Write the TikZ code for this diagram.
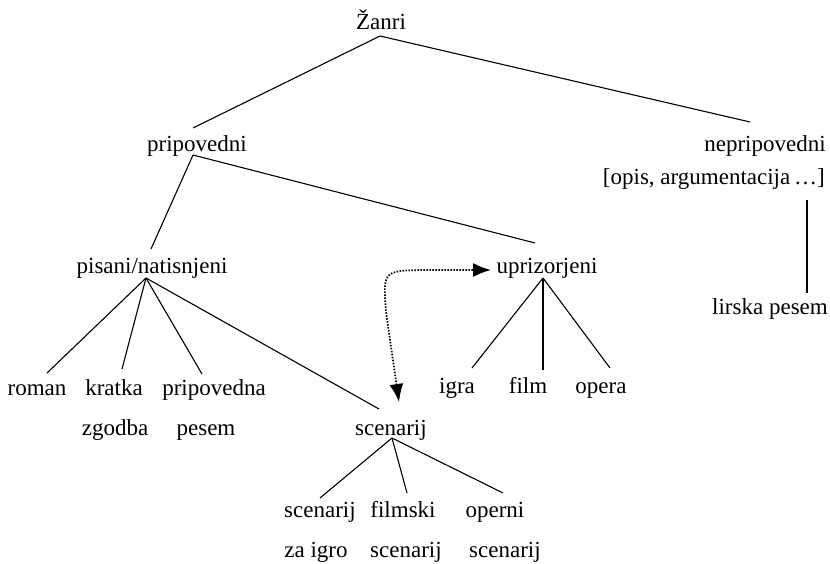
\documentclass[tikz,border=0pt]{standalone}
\usepackage{fontspec}
\setmainfont{Liberation Serif}
\usetikzlibrary{arrows.meta}
\begin{document}
\begin{tikzpicture}[x=1pt,y=-1pt,
  lbl/.style={anchor=base, inner sep=0pt, font=\fontsize{23}{28}\selectfont},
  edge/.style={line width=1.1pt},
  link/.style={line width=1.7pt, dash pattern=on 1.5pt off 1.5pt,
    {Latex[length=18pt,width=14pt]}-{Latex[length=18pt,width=14pt]}}]
\useasboundingbox (0,0) rectangle (830,564);

% level 0
\node[lbl] (zanri) at (381,30) {Žanri};
% level 1
\node[lbl] (prip) at (197,152) {pripovedni};
\node[lbl] (neprip) at (765,152) {nepripovedni};
\node[lbl, anchor=base east] (opis) at (825,185) {[opis, argumentacija\,…]};
\node[lbl] (lirska) at (770,314) {lirska pesem};
% level 2
\node[lbl] (pisani) at (152,273) {pisani/natisnjeni};
\node[lbl] (upriz) at (547,273) {uprizorjeni};
% children of pisani/natisnjeni
\node[lbl] (roman) at (37,395) {roman};
\node[lbl] (kratka) at (114,395) {kratka};
\node[lbl] (zgodba) at (115,435) {zgodba};
\node[lbl] (pripp) at (214,395) {pripovedna};
\node[lbl] (pesem) at (206,435) {pesem};
\node[lbl] (scen) at (391,435) {scenarij};
% children of uprizorjeni
\node[lbl] (igra) at (457,393) {igra};
\node[lbl] (film) at (528,393) {film};
\node[lbl] (opera) at (601,393) {opera};
% children of scenarij
\node[lbl] (scza) at (320,517) {scenarij};
\node[lbl] (zaigro) at (316,557) {za igro};
\node[lbl] (filmski) at (403,517) {filmski};
\node[lbl] (scfilm) at (406,557) {scenarij};
\node[lbl] (operni) at (495,517) {operni};
\node[lbl] (scop) at (505,557) {scenarij};

% tree edges
\draw[edge] ([shift={(-1,6)}]zanri.base) -- ([shift={(-4,-24)}]prip.base);
\draw[edge] ([shift={(-1,6)}]zanri.base) -- ([shift={(-15,-30)}]neprip.base);
\draw[edge] ([shift={(-4,3)}]prip.base) -- ([shift={(-1,-24)}]pisani.base);
\draw[edge] ([shift={(-4,3)}]prip.base) -- ([shift={(-12,-30)}]upriz.base);
\draw[edge] ([shift={(-18,15)}]opis.base east) -- ([shift={(37,-21)}]lirska.base);
\draw[edge] ([shift={(-6,5)}]pisani.base) -- ([shift={(10,-22)}]roman.base);
\draw[edge] ([shift={(-6,5)}]pisani.base) -- ([shift={(8,-26)}]kratka.base);
\draw[edge] ([shift={(-6,5)}]pisani.base) -- ([shift={(-12,-21)}]pripp.base);
\draw[edge] ([shift={(-6,5)}]pisani.base) -- ([shift={(-12,-26)}]scen.base);
\draw[edge] ([shift={(-4,5)}]upriz.base) -- ([shift={(15,-25)}]igra.base);
\draw[edge] ([shift={(-4,5)}]upriz.base) -- ([shift={(15,-23)}]film.base);
\draw[edge] ([shift={(-4,5)}]upriz.base) -- ([shift={(9,-25)}]opera.base);
\draw[edge] ([shift={(1,3)}]scen.base) -- ([shift={(0,-19)}]scza.base);
\draw[edge] ([shift={(1,3)}]scen.base) -- ([shift={(4,-24)}]filmski.base);
\draw[edge] ([shift={(1,3)}]scen.base) -- ([shift={(8,-24)}]operni.base);

% dotted two-way link between scenarij and uprizorjeni
\coordinate (bendA) at (386,312);
\coordinate (bend) at (383,271);
\coordinate (bendB) at (422,270);
\draw[link] ([shift={(8,-33)}]scen.base) -- (bendA)
  .. controls (bend) .. (bendB) -- ([shift={(-56,-3)}]upriz.base);
\end{tikzpicture}
\end{document}
